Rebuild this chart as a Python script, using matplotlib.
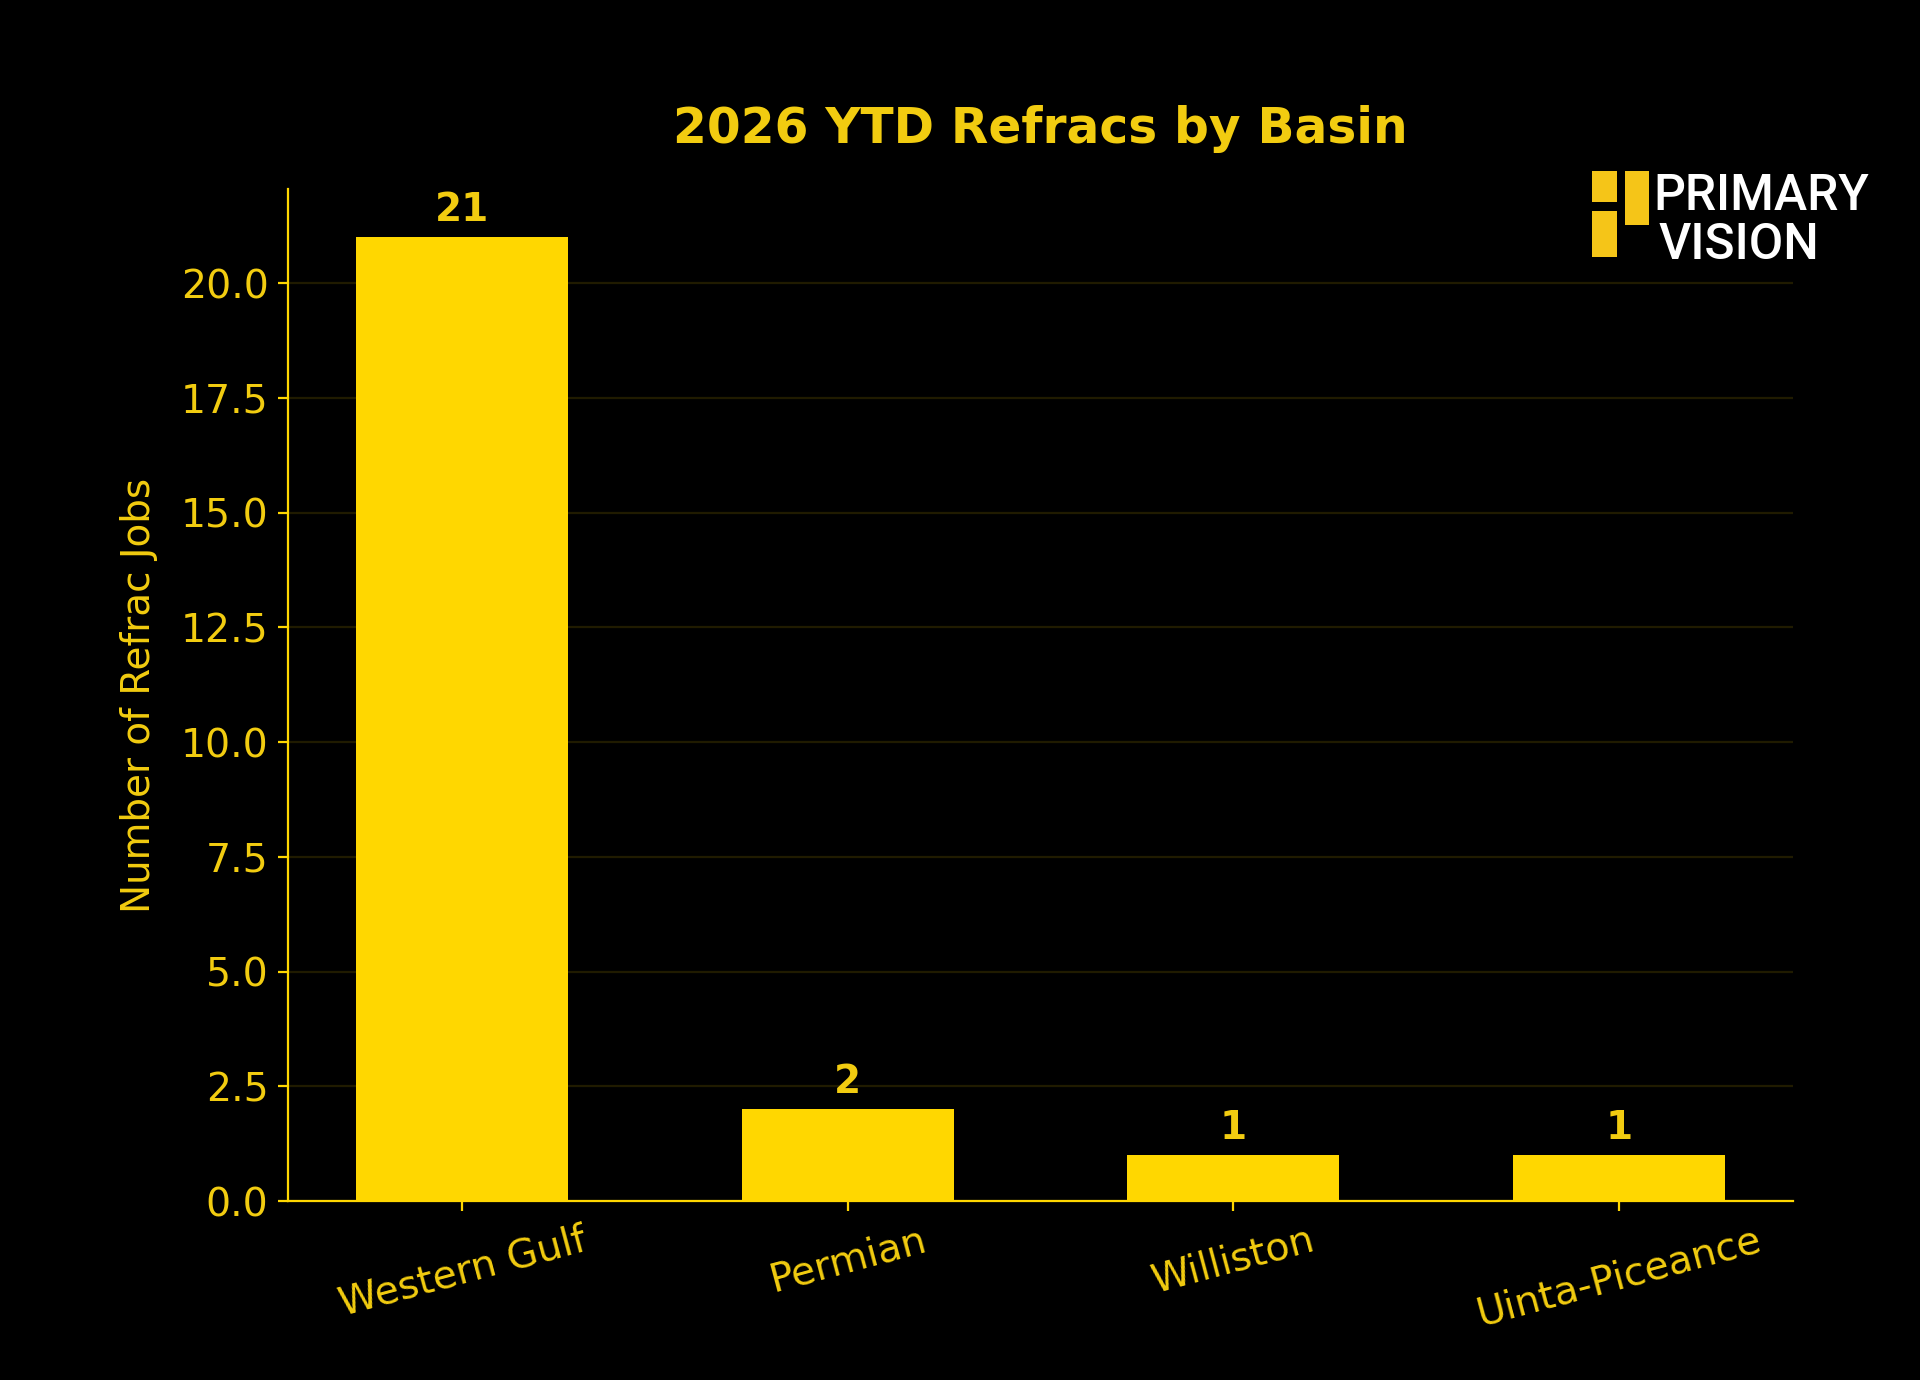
import matplotlib
matplotlib.use("Agg")
import matplotlib.pyplot as plt
from matplotlib.patches import Rectangle

# Datos
basins = ["Western Gulf", "Permian", "Williston", "Uinta-Piceance"]
refracs = [21, 2, 1, 1]

GOLD = "#FFD700"
LABEL_GOLD = "#F2CC10"
LOGO_GOLD = "#F5C518"

fig = plt.figure(figsize=(9.6, 6.9), dpi=200, facecolor="black")
ax = fig.add_axes([0.15, 0.1297, 0.784, 0.7333])
ax.set_facecolor("black")

x = range(len(basins))
bars = ax.bar(x, refracs, width=0.55, color=GOLD, zorder=3)

# etiquetas sobre las barras
for b, v in zip(bars, refracs):
    ax.annotate(str(v), (b.get_x() + b.get_width() / 2, b.get_height()),
                xytext=(0, 3), textcoords="offset points",
                ha="center", va="bottom", color=LABEL_GOLD,
                fontsize=14, fontweight="bold")

ax.set_xticks(list(x))
ax.set_xticklabels(basins, rotation=15, ha="center")
ax.set_ylim(0, max(refracs) * 1.05)

ax.set_title("2026 YTD Refracs by Basin", color=LABEL_GOLD, fontsize=17.5,
             fontweight="bold", pad=16.5)
ax.set_ylabel("Number of Refrac Jobs", color=LABEL_GOLD, fontsize=14, labelpad=8)

ax.tick_params(colors=GOLD, labelcolor=LABEL_GOLD, labelsize=14.2)
ax.grid(axis="y", color=GOLD, alpha=0.13, linewidth=0.8, zorder=0)
for side in ["top", "right"]:
    ax.spines[side].set_visible(False)
for side in ["left", "bottom"]:
    ax.spines[side].set_color(GOLD)

# logo Primary Vision (coordenadas en pixeles de la figura)
W, H = 1920, 1380


def px_rect(x0, y0, x1, y1):
    return Rectangle((x0 / W, 1 - y1 / H), (x1 - x0) / W, (y1 - y0) / H,
                     transform=fig.transFigure, color=LOGO_GOLD, lw=0)


fig.patches.append(px_rect(1592, 171, 1617, 202))
fig.patches.append(px_rect(1592, 211, 1617, 257))
fig.patches.append(px_rect(1625, 171, 1649, 225))
fig.text(1653 / W, 1 - 210 / H, "PRIMARY", color="white", fontsize=18,
         family="Roboto", fontweight="medium", ha="left", va="baseline")
fig.text(1659 / W, 1 - 259 / H, "VISION", color="white", fontsize=18,
         family="Roboto", fontweight="medium", ha="left", va="baseline")

fig.savefig("out.png", facecolor="black")
